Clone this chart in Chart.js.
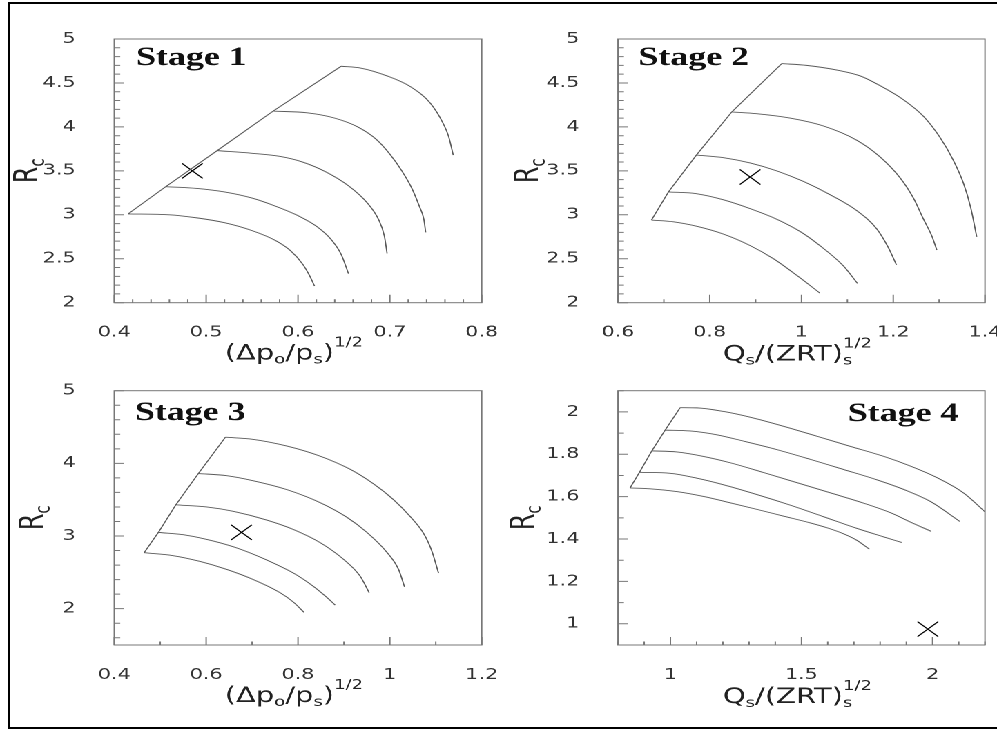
<!DOCTYPE html>
<html>
<head>
<meta charset="utf-8">
<script src="https://cdn.jsdelivr.net/npm/chart.js@4.4.0/dist/chart.umd.min.js"></script>
<style>
  html, body { margin: 0; padding: 0; background: #fff; overflow: hidden; width: 997px; height: 729px; }
  #frame { position: absolute; left: 8px; top: 2px; width: 1000px; height: 723px; border: 2px solid #000; border-right: none; }
  #wrap { position: absolute; left: 0; top: 0; width: 722px; height: 729px; transform: scaleX(1.380886); transform-origin: 0 0; }
  #wrap canvas { position: absolute; }
</style>
</head>
<body>
<div id="frame"></div>
<div id="wrap">
  <canvas id="p1"></canvas>
  <canvas id="p2"></canvas>
  <canvas id="p3"></canvas>
  <canvas id="p4"></canvas>
</div>
<script>
// ---- data: constant speed lines, [x, Rc] ----
const stage1Line1 = [[0.415,3.01],[0.46,3.00],[0.49,2.965],[0.52,2.91],[0.55,2.82],[0.575,2.71],[0.592,2.59],[0.605,2.44],[0.612,2.32],[0.618,2.19]];
const stage1Line2 = [[0.456,3.32],[0.49,3.30],[0.52,3.26],[0.55,3.19],[0.575,3.10],[0.60,2.99],[0.62,2.87],[0.636,2.72],[0.647,2.55],[0.655,2.33]];
const stage1Line3 = [[0.512,3.73],[0.55,3.70],[0.58,3.665],[0.605,3.60],[0.63,3.49],[0.655,3.33],[0.675,3.14],[0.688,2.94],[0.694,2.76],[0.697,2.56]];
const stage1Line4 = [[0.573,4.18],[0.61,4.16],[0.64,4.10],[0.665,4.00],[0.685,3.86],[0.70,3.69],[0.713,3.50],[0.724,3.30],[0.732,3.10],[0.737,2.95],[0.739,2.80]];
const stage1Line5 = [[0.647,4.69],[0.668,4.67],[0.697,4.58],[0.722,4.46],[0.744,4.27],[0.758,4.04],[0.764,3.89],[0.769,3.68]];
const stage1Point = [0.485, 3.50];

const stage2Line1 = [[0.673,2.94],[0.721,2.92],[0.771,2.87],[0.830,2.78],[0.888,2.65],[0.939,2.50],[0.990,2.31],[1.040,2.11]];
const stage2Line2 = [[0.710,3.26],[0.771,3.24],[0.830,3.17],[0.888,3.07],[0.946,2.95],[0.997,2.81],[1.040,2.65],[1.091,2.42],[1.122,2.22]];
const stage2Line3 = [[0.771,3.68],[0.830,3.65],[0.888,3.59],[0.946,3.50],[1.004,3.38],[1.062,3.23],[1.120,3.05],[1.164,2.84],[1.189,2.63],[1.207,2.43]];
const stage2Line4 = [[0.848,4.17],[0.902,4.15],[0.975,4.10],[1.048,4.01],[1.120,3.85],[1.171,3.66],[1.215,3.42],[1.244,3.19],[1.266,2.95],[1.284,2.76],[1.295,2.60]];
const stage2Line5 = [[0.957,4.72],[1.011,4.70],[1.084,4.64],[1.128,4.58],[1.171,4.47],[1.222,4.31],[1.266,4.12],[1.302,3.88],[1.331,3.62],[1.353,3.36],[1.369,3.08],[1.382,2.75]];
const stage2Point = [0.888, 3.43];

const stage3Line1 = [[0.465,2.77],[0.528,2.73],[0.587,2.65],[0.645,2.54],[0.703,2.40],[0.761,2.22],[0.790,2.09],[0.813,1.95]];
const stage3Line2 = [[0.496,3.05],[0.558,3.01],[0.616,2.93],[0.674,2.82],[0.732,2.67],[0.790,2.49],[0.833,2.31],[0.862,2.16],[0.881,2.05]];
const stage3Line3 = [[0.534,3.43],[0.601,3.40],[0.659,3.34],[0.732,3.22],[0.790,3.09],[0.848,2.91],[0.899,2.68],[0.935,2.45],[0.955,2.22]];
const stage3Line4 = [[0.583,3.86],[0.645,3.83],[0.703,3.76],[0.775,3.64],[0.848,3.46],[0.906,3.26],[0.950,3.05],[0.993,2.78],[1.019,2.54],[1.032,2.30]];
const stage3Line5 = [[0.642,4.36],[0.703,4.33],[0.775,4.24],[0.848,4.10],[0.913,3.92],[0.964,3.72],[1.008,3.50],[1.044,3.27],[1.073,3.04],[1.091,2.80],[1.106,2.49]];
const stage3Point = [0.677, 3.05];

const stage4Line1 = [[0.846,1.641],[0.922,1.637],[1.024,1.624],[1.126,1.601],[1.228,1.571],[1.330,1.540],[1.432,1.508],[1.534,1.476],[1.600,1.452],[1.660,1.425],[1.710,1.395],[1.759,1.352]];
const stage4Line2 = [[0.882,1.715],[0.999,1.710],[1.101,1.687],[1.203,1.656],[1.330,1.610],[1.457,1.560],[1.585,1.505],[1.712,1.450],[1.814,1.410],[1.882,1.384]];
const stage4Line3 = [[0.929,1.816],[1.024,1.811],[1.126,1.790],[1.228,1.760],[1.355,1.714],[1.483,1.666],[1.610,1.618],[1.738,1.569],[1.840,1.524],[1.916,1.480],[1.995,1.436]];
const stage4Line4 = [[0.980,1.914],[1.075,1.910],[1.177,1.892],[1.279,1.862],[1.406,1.822],[1.534,1.776],[1.661,1.728],[1.789,1.679],[1.890,1.634],[1.992,1.577],[2.104,1.483]];
const stage4Line5 = [[1.037,2.020],[1.101,2.019],[1.203,2.002],[1.304,1.975],[1.432,1.932],[1.559,1.885],[1.687,1.837],[1.814,1.790],[1.916,1.744],[2.018,1.689],[2.120,1.616],[2.203,1.525]];
const stage4Point = [1.982, 0.975];

// ---- axis ticks ----
const xTicks1 = [0.4, 0.5, 0.6, 0.7, 0.8];
const xTicks2 = [0.6, 0.8, 1, 1.2, 1.4];
const xTicks3 = [0.4, 0.6, 0.8, 1, 1.2];
const xTicks4 = [1, 1.5, 2];
const yTicks12 = [2, 2.5, 3, 3.5, 4, 4.5, 5];
const yTicks3 = [2, 3, 4, 5];
const yTicks4 = [1, 1.2, 1.4, 1.6, 1.8, 2];

const SX = 997 / 722; // the whole figure is stretched horizontally
const SANS = '"DejaVu Sans", Verdana, sans-serif';
const FONT_MAIN = '21px ' + SANS;
const FONT_SMALL = '13px ' + SANS;
const FONT_R = '24px ' + SANS;
const FONT_RSUB = '15px ' + SANS;

const titleDp = [{ t: '(\u0394p' }, { t: 'o', f: 'sub' }, { t: '/p' }, { t: 's', f: 'sub' }, { t: ')' }, { t: '1/2', f: 'sup' }];
const titleQ = [{ t: 'Q' }, { t: 's', f: 'sub' }, { t: '/(ZRT)' }, { t: 's', f: 'sub', keep: true }, { t: '1/2', f: 'sup' }];
const titleR = [{ t: 'R' }, { t: 'c', f: 'sub' }];

function drawRich(ctx, parts, cx, base, subDy, supDy, big, small) {
  let x = 0, pending = 0;
  const placed = [];
  for (const p of parts) {
    ctx.font = p.f ? small : big;
    const w = ctx.measureText(p.t).width;
    placed.push({ p, x });
    if (p.keep) pending = Math.max(pending, w);
    else { x += Math.max(w, pending); pending = 0; }
  }
  const x0 = cx - x / 2;
  ctx.textAlign = 'left';
  ctx.textBaseline = 'alphabetic';
  for (const { p, x: px } of placed) {
    ctx.font = p.f ? small : big;
    const dy = p.f === 'sub' ? subDy : p.f === 'sup' ? supDy : 0;
    ctx.fillText(p.t, x0 + px, base + dy);
  }
}

function eachTick(min, max, step, major, fn) {
  const start = Math.ceil(min / step - 1e-6);
  const end = Math.floor(max / step + 1e-6);
  for (let i = start; i <= end; i++) {
    const v = i * step;
    const r = v / major;
    fn(v, Math.abs(r - Math.round(r)) < 1e-6);
  }
}

Chart.register({
  id: 'decor',
  afterDraw(chart, args, o) {
    const ctx = chart.ctx, a = chart.chartArea;
    const xs = chart.scales.x, ys = chart.scales.y;
    ctx.save();
    ctx.strokeStyle = '#777';
    ctx.lineWidth = 1;
    ctx.strokeRect(a.left, a.top, a.right - a.left, a.bottom - a.top);
    ctx.beginPath();
    eachTick(xs.min, xs.max, o.xMinor, o.xMajor, (v, major) => {
      const px = xs.getPixelForValue(v);
      ctx.moveTo(px, a.bottom);
      ctx.lineTo(px, a.bottom - (major ? 8 : 3.5));
    });
    eachTick(ys.min, ys.max, o.yMinor, o.yMajor, (v, major) => {
      const py = ys.getPixelForValue(v);
      ctx.moveTo(a.left, py);
      ctx.lineTo(a.left + (major ? 7.2 : 4.3), py);
    });
    ctx.stroke();

    ctx.fillStyle = '#111';
    ctx.font = 'bold 26px "Liberation Serif", "Times New Roman", serif';
    ctx.textBaseline = 'alphabetic';
    if (o.stageRight) {
      ctx.textAlign = 'right';
      ctx.fillText(o.stage, a.right + o.stageDx, a.top + o.stageDy);
    } else {
      ctx.textAlign = 'left';
      ctx.fillText(o.stage, a.left + o.stageDx, a.top + o.stageDy);
    }

    ctx.fillStyle = '#222';
    drawRich(ctx, o.xTitle, (a.left + a.right) / 2 - 3, a.bottom + o.xTitleDy, 4, -13, FONT_MAIN, FONT_SMALL);

    ctx.translate(a.left + o.yTitleDx, (a.top + a.bottom) / 2);
    ctx.rotate(-Math.PI / 2);
    drawRich(ctx, titleR, 0, 0, 5, -10, FONT_R, FONT_RSUB);
    ctx.restore();
  }
});

function lineSet(points) {
  return {
    data: points.map(p => ({ x: p[0], y: p[1] })),
    showLine: true,
    borderColor: '#5a5a5a',
    borderWidth: 0.9,
    pointRadius: 0,
    cubicInterpolationMode: 'monotone'
  };
}

function makePanel(id, box, p) {
  const L = box.left / SX, R = box.right / SX;
  const cl = Math.floor(L - 100), ct = Math.floor(box.top - 34);
  const w = Math.ceil(R + 16 - cl), h = Math.ceil(box.bottom + 62 - ct);
  const yAxisW = L - cl;
  const xAxisH = ct + h - box.bottom;
  const cv = document.getElementById(id);
  cv.width = w; cv.height = h;
  cv.style.width = w + 'px'; cv.style.height = h + 'px';
  cv.style.left = cl + 'px'; cv.style.top = ct + 'px';

  const surge = p.lines.map(l => l[0]);
  const datasets = p.lines.map(lineSet);
  datasets.push(Object.assign(lineSet(surge), { cubicInterpolationMode: 'default', tension: 0 }));
  datasets.push({
    data: [{ x: p.point[0], y: p.point[1] }],
    pointStyle: 'crossRot',
    pointRadius: 10.6,
    borderColor: '#000',
    borderWidth: 1,
    showLine: false
  });

  const tickFont = { family: SANS, size: 15 };
  return new Chart(cv, {
    type: 'scatter',
    data: { datasets },
    options: {
      responsive: false,
      animation: false,
      devicePixelRatio: 2,
      layout: { padding: { left: 0, top: box.top - ct, right: cl + w - R, bottom: 0 } },
      plugins: {
        legend: { display: false },
        tooltip: { enabled: false },
        decor: {
          stage: p.stage, stageDx: p.stageDx, stageDy: p.stageDy, stageRight: p.stageRight,
          xTitle: p.xTitle, xTitleDy: p.xTitleDy, yTitleDx: p.yTitleDx,
          xMinor: p.xMinor, xMajor: p.xMajor, yMinor: p.yMinor, yMajor: p.yMajor
        }
      },
      scales: {
        x: {
          type: 'linear', position: 'bottom',
          min: p.xMin, max: p.xMax,
          grid: { display: false },
          border: { display: false },
          afterBuildTicks: s => { s.ticks = p.xTicks.map(v => ({ value: v })); },
          afterFit: s => { s.height = xAxisH; s.paddingLeft = 0; s.paddingRight = 0; },
          ticks: {
            autoSkip: false, maxRotation: 0, padding: 13,
            color: '#333', font: tickFont,
            callback: v => String(+v.toFixed(3))
          }
        },
        y: {
          type: 'linear', position: 'left',
          min: p.yMin, max: p.yMax,
          grid: { display: false },
          border: { display: false },
          afterBuildTicks: s => { s.ticks = p.yTicks.map(v => ({ value: v })); },
          afterFit: s => { s.width = yAxisW; s.paddingTop = 0; s.paddingBottom = 0; },
          ticks: {
            autoSkip: false, padding: 20,
            color: '#333', font: tickFont,
            callback: v => String(+v.toFixed(3))
          }
        }
      }
    }
  });
}

makePanel('p1', { left: 114.3, right: 481.7, top: 39, bottom: 302.7 }, {
  lines: [stage1Line1, stage1Line2, stage1Line3, stage1Line4, stage1Line5], point: stage1Point,
  xMin: 0.4, xMax: 0.8, yMin: 2, yMax: 5, xTicks: xTicks1, yTicks: yTicks12,
  xMinor: 0.02, xMajor: 0.1, yMinor: 0.1, yMajor: 0.5,
  stage: 'Stage 1', stageDx: 15.7, stageDy: 26, xTitle: titleDp, xTitleDy: 57, yTitleDx: -56
});
makePanel('p2', { left: 618, right: 985, top: 39, bottom: 302.7 }, {
  lines: [stage2Line1, stage2Line2, stage2Line3, stage2Line4, stage2Line5], point: stage2Point,
  xMin: 0.6, xMax: 1.4, yMin: 2, yMax: 5, xTicks: xTicks2, yTicks: yTicks12,
  xMinor: 0.1, xMajor: 0.2, yMinor: 0.1, yMajor: 0.5,
  stage: 'Stage 2', stageDx: 14.7, stageDy: 26, xTitle: titleQ, xTitleDy: 58, yTitleDx: -58
});
makePanel('p3', { left: 114.3, right: 481.7, top: 390.7, bottom: 645 }, {
  lines: [stage3Line1, stage3Line2, stage3Line3, stage3Line4, stage3Line5], point: stage3Point,
  xMin: 0.4, xMax: 1.2, yMin: 1.5, yMax: 5, xTicks: xTicks3, yTicks: yTicks3,
  xMinor: 0.1, xMajor: 0.2, yMinor: 0.2, yMajor: 1,
  stage: 'Stage 3', stageDx: 15, stageDy: 29.3, xTitle: titleDp, xTitleDy: 57, yTitleDx: -52
});
makePanel('p4', { left: 618, right: 985, top: 390.7, bottom: 645 }, {
  lines: [stage4Line1, stage4Line2, stage4Line3, stage4Line4, stage4Line5], point: stage4Point,
  xMin: 0.8, xMax: 2.2, yMin: 0.9, yMax: 2.1, xTicks: xTicks4, yTicks: yTicks4,
  xMinor: 0.1, xMajor: 0.5, yMinor: 0.1, yMajor: 0.2,
  stage: 'Stage 4', stageDx: -19.3, stageDy: 30.3, stageRight: true, xTitle: titleQ, xTitleDy: 58, yTitleDx: -61
});
</script>
</body>
</html>
